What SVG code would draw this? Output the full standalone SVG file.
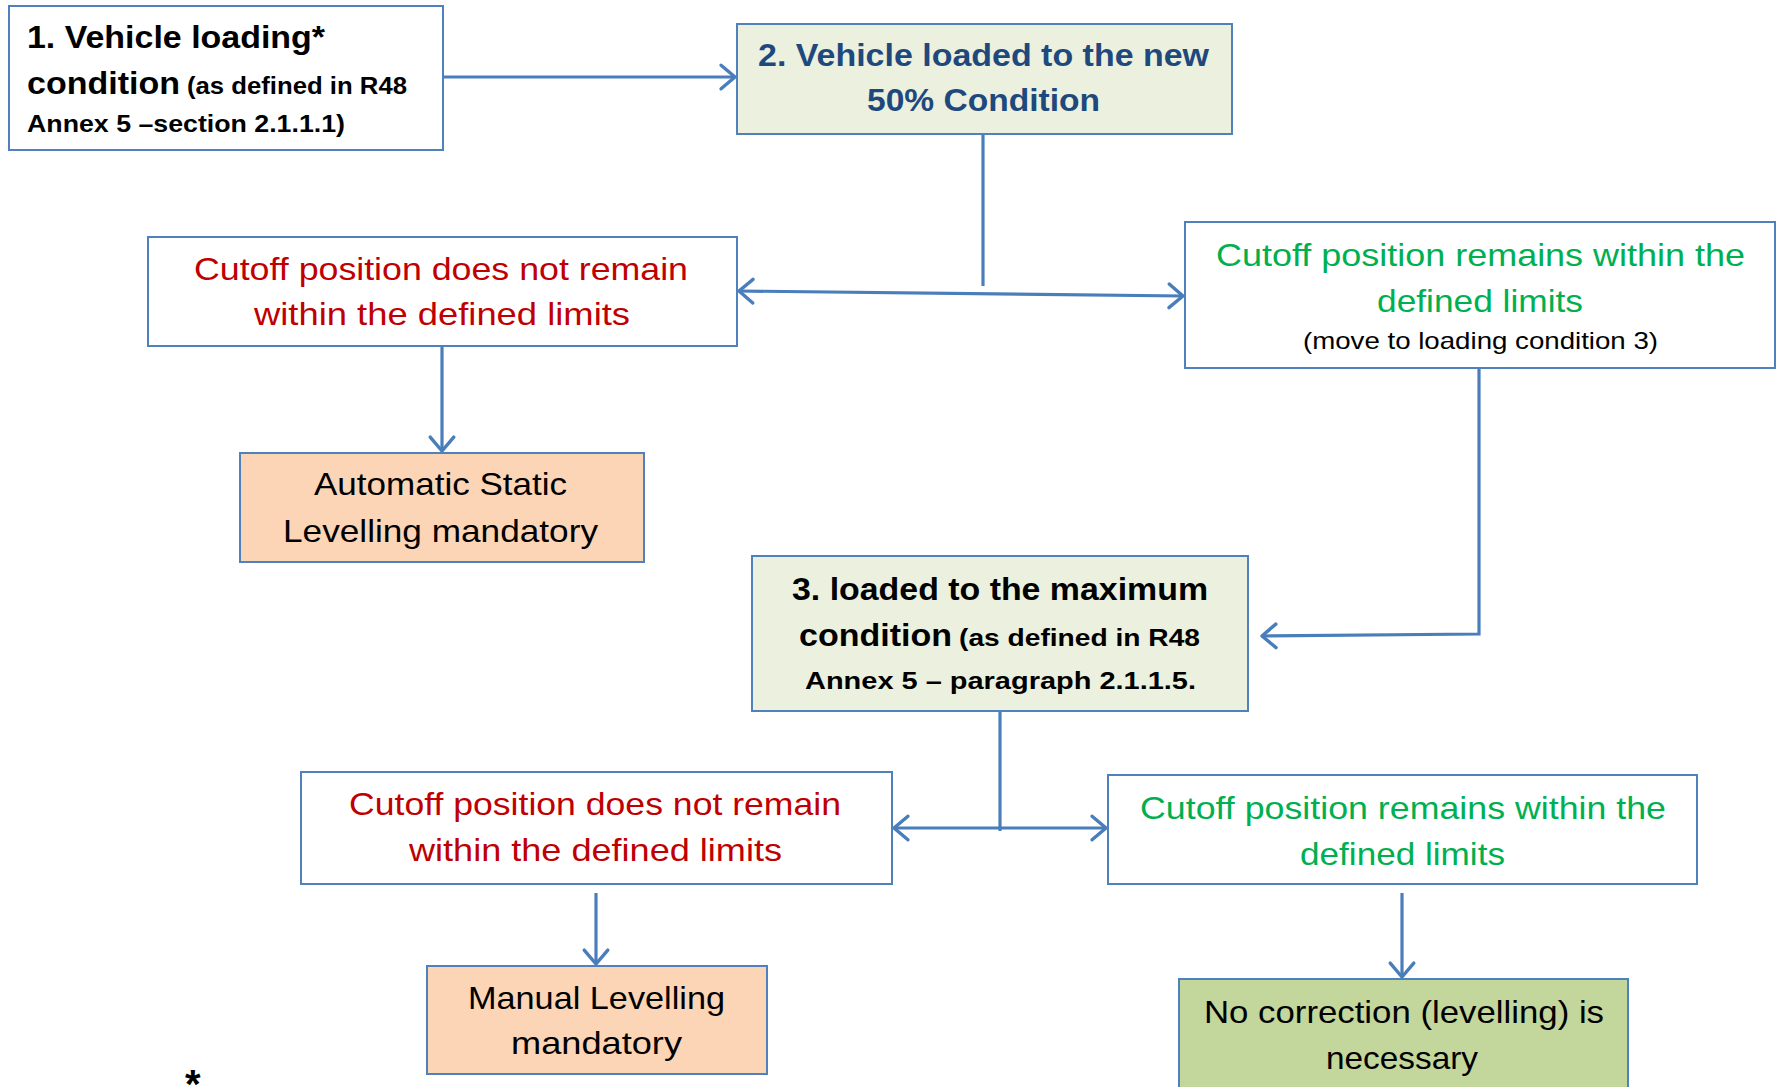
<svg xmlns="http://www.w3.org/2000/svg" width="1777" height="1087" viewBox="0 0 1777 1087">
<defs>
<style>
.box{stroke:#4F81BD;stroke-width:2}
.w{fill:#FFFFFF}.g{fill:#EBF1DE}.p{fill:#FBD5B5}.ok{fill:#C3D69B}
text{font-family:"Liberation Sans",Arial,sans-serif}
.b{font-weight:bold}
.red{fill:#C00000}.grn{fill:#00B050}.blu{fill:#1F497D}.blk{fill:#000000}
.conn{stroke:#4A7EBB;stroke-width:3.2;fill:none}
</style>
<marker id="ah" markerUnits="userSpaceOnUse" markerWidth="30" markerHeight="30" viewBox="-16 -14 20 28" refX="0" refY="0" orient="auto-start-reverse">
<path d="M -13 -11 L 0 0 L -13 11" fill="none" stroke="#4A7EBB" stroke-width="3.2" stroke-linecap="round" stroke-linejoin="round"/>
</marker>
</defs>
<rect width="1777" height="1087" fill="#FFFFFF"/>

<g id="connectors">
<line class="conn" x1="443" y1="77" x2="735" y2="77" marker-end="url(#ah)"/>
<line class="conn" x1="983" y1="134" x2="983" y2="286"/>
<line class="conn" x1="739" y1="291" x2="1183" y2="296" marker-start="url(#ah)" marker-end="url(#ah)"/>
<line class="conn" x1="442" y1="346" x2="442" y2="451" marker-end="url(#ah)"/>
<polyline class="conn" points="1479,368 1479,634 1262,636" marker-end="url(#ah)"/>
<line class="conn" x1="1000" y1="711" x2="1000" y2="831"/>
<line class="conn" x1="894" y1="828" x2="1106" y2="828" marker-start="url(#ah)" marker-end="url(#ah)"/>
<line class="conn" x1="596" y1="893" x2="596" y2="964" marker-end="url(#ah)"/>
<line class="conn" x1="1402" y1="893" x2="1402" y2="977" marker-end="url(#ah)"/>
</g>

<g id="node1">
<rect class="box w" x="9" y="6" width="434" height="144"/>
<text class="b blk" x="27" y="48" font-size="32" textLength="298" lengthAdjust="spacingAndGlyphs">1. Vehicle loading*</text>
<text class="b blk" x="27" y="94" font-size="32" textLength="153" lengthAdjust="spacingAndGlyphs">condition</text>
<text class="b blk" x="187" y="94" font-size="24" textLength="220" lengthAdjust="spacingAndGlyphs">(as defined in R48</text>
<text class="b blk" x="27" y="132" font-size="24" textLength="318" lengthAdjust="spacingAndGlyphs">Annex 5 –section  2.1.1.1)</text>
</g>

<g id="node2">
<rect class="box g" x="737" y="24" width="495" height="110"/>
<text class="b blu" x="758" y="66" font-size="32" textLength="451" lengthAdjust="spacingAndGlyphs">2. Vehicle loaded to the new</text>
<text class="b blu" x="867" y="111" font-size="32" textLength="233" lengthAdjust="spacingAndGlyphs">50% Condition</text>
</g>

<g id="node3">
<rect class="box w" x="148" y="237" width="589" height="109"/>
<text class="red" x="194" y="280" font-size="32" textLength="494" lengthAdjust="spacingAndGlyphs">Cutoff position does not remain</text>
<text class="red" x="254" y="325" font-size="32" textLength="376" lengthAdjust="spacingAndGlyphs">within the defined limits</text>
</g>

<g id="node4">
<rect class="box w" x="1185" y="222" width="590" height="146"/>
<text class="grn" x="1216" y="266" font-size="32" textLength="529" lengthAdjust="spacingAndGlyphs">Cutoff position remains within the</text>
<text class="grn" x="1377" y="312" font-size="32" textLength="206" lengthAdjust="spacingAndGlyphs">defined limits</text>
<text class="blk" x="1303" y="349" font-size="24" textLength="355" lengthAdjust="spacingAndGlyphs">(move to loading condition 3)</text>
</g>

<g id="node5">
<rect class="box p" x="240" y="453" width="404" height="109"/>
<text class="blk" x="314" y="495" font-size="32" textLength="253" lengthAdjust="spacingAndGlyphs">Automatic Static</text>
<text class="blk" x="283" y="542" font-size="32" textLength="315" lengthAdjust="spacingAndGlyphs">Levelling mandatory</text>
</g>

<g id="node6">
<rect class="box g" x="752" y="556" width="496" height="155"/>
<text class="b blk" x="792" y="600" font-size="32" textLength="416" lengthAdjust="spacingAndGlyphs">3. loaded to the maximum</text>
<text class="b blk" x="799" y="646" font-size="32" textLength="153" lengthAdjust="spacingAndGlyphs">condition</text>
<text class="b blk" x="959" y="646" font-size="24" textLength="241" lengthAdjust="spacingAndGlyphs">(as defined in R48</text>
<text class="b blk" x="805" y="689" font-size="24" textLength="391" lengthAdjust="spacingAndGlyphs">Annex 5 – paragraph 2.1.1.5.</text>
</g>

<g id="node7">
<rect class="box w" x="301" y="772" width="591" height="112"/>
<text class="red" x="349" y="815" font-size="32" textLength="492" lengthAdjust="spacingAndGlyphs">Cutoff position does not remain</text>
<text class="red" x="409" y="861" font-size="32" textLength="373" lengthAdjust="spacingAndGlyphs">within the defined limits</text>
</g>

<g id="node8">
<rect class="box w" x="1108" y="775" width="589" height="109"/>
<text class="grn" x="1140" y="819" font-size="32" textLength="526" lengthAdjust="spacingAndGlyphs">Cutoff position remains within the</text>
<text class="grn" x="1300" y="865" font-size="32" textLength="205" lengthAdjust="spacingAndGlyphs">defined limits</text>
</g>

<g id="node9">
<rect class="box p" x="427" y="966" width="340" height="108"/>
<text class="blk" x="468" y="1009" font-size="32" textLength="257" lengthAdjust="spacingAndGlyphs">Manual Levelling</text>
<text class="blk" x="511" y="1054" font-size="32" textLength="171" lengthAdjust="spacingAndGlyphs">mandatory</text>
</g>

<g id="node10">
<rect class="box ok" x="1179" y="979" width="449" height="120"/>
<text class="blk" x="1204" y="1023" font-size="32" textLength="400" lengthAdjust="spacingAndGlyphs">No correction (levelling) is</text>
<text class="blk" x="1326" y="1069" font-size="32" textLength="152" lengthAdjust="spacingAndGlyphs">necessary</text>
</g>

<text class="b blk" x="185" y="1098" font-size="40">*</text>
</svg>
